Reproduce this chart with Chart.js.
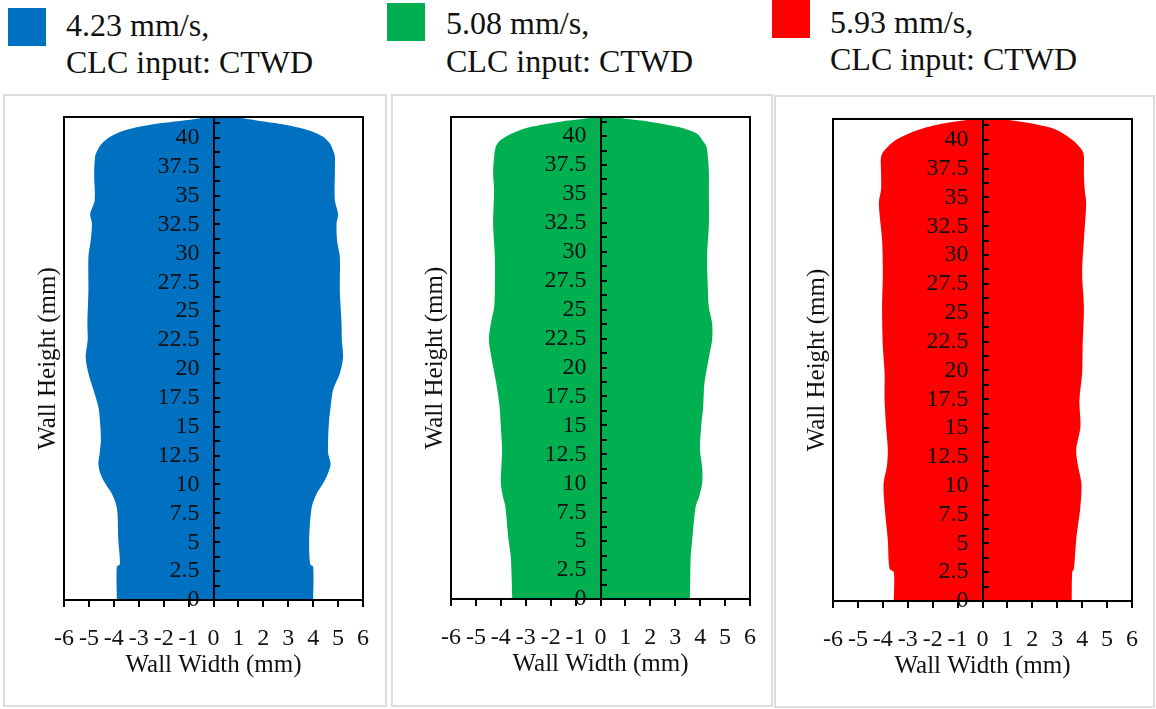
<!DOCTYPE html>
<html>
<head>
<meta charset="utf-8">
<script src="https://cdn.jsdelivr.net/npm/chart.js@4"></script>
<style>
  body { margin: 0; background: #fff; width: 1156px; height: 709px; position: relative; overflow: hidden; font-family: "Liberation Serif", serif; }
  .key { position: absolute; width: 38px; height: 38px; }
  .txt { position: absolute; font-size: 32px; line-height: 37px; color: #111; white-space: nowrap; }
  .box { position: absolute; border: 2px solid #dcdcdc; box-sizing: border-box; }
  canvas { position: absolute; }
</style>
</head>
<body>
<div class="key" style="left:8px;top:8px;background:#0070c0"></div>
<div class="txt" id="t1" style="left:66px;top:7px"></div>
<div class="key" style="left:387px;top:3px;background:#00b050"></div>
<div class="txt" id="t2" style="left:446px;top:4px;line-height:38px"></div>
<div class="key" style="left:772px;top:0px;background:#ff0000"></div>
<div class="txt" id="t3" style="left:830px;top:4px"></div>

<div class="box" style="left:3px;top:94px;width:384px;height:613px"></div>
<div class="box" style="left:391px;top:94px;width:382px;height:613px"></div>
<div class="box" style="left:774px;top:95px;width:381px;height:613px"></div>
<canvas id="c1" width="384" height="613" style="left:3px;top:94px"></canvas>
<canvas id="c2" width="382" height="613" style="left:391px;top:94px"></canvas>
<canvas id="c3" width="381" height="613" style="left:774px;top:95px"></canvas>

<script>
const speeds = ["4.23 mm/s,", "5.08 mm/s,", "5.93 mm/s,"];
const colors = ["#0070c0", "#00b050", "#ff0000"];
const xTicks = [-6, -5, -4, -3, -2, -1, 0, 1, 2, 3, 4, 5, 6];
const yLabels = [0, 2.5, 5, 7.5, 10, 12.5, 15, 17.5, 20, 22.5, 25, 27.5, 30, 32.5, 35, 37.5, 40];

// wall profile, panel 1 (4.23 mm/s)
const height1 = [0, 2.9, 3.1, 5.2, 8.0, 9.2, 10.1, 11.0, 11.8, 12.7, 13.8, 15.3, 16.7, 18.2, 19.6, 21.0, 22.5, 23.9, 26.8, 29.7, 31.1, 32.6, 33.4, 34.6, 36.9, 38.4, 38.9, 39.5, 40.1, 40.7, 41.25, 41.7, 42.0];
const left1 = [-3.88, -3.88, -3.76, -3.82, -3.88, -4.08, -4.35, -4.55, -4.62, -4.57, -4.52, -4.55, -4.62, -4.82, -5.02, -5.13, -5.05, -5.06, -5.02, -5.02, -4.93, -4.88, -4.95, -4.77, -4.79, -4.75, -4.66, -4.48, -4.15, -3.48, -2.15, -0.54, -0.2];
const right1 = [4.0, 4.0, 3.88, 3.84, 3.94, 4.14, 4.4, 4.6, 4.7, 4.6, 4.6, 4.63, 4.7, 4.8, 5.07, 5.2, 5.15, 5.14, 5.07, 5.07, 4.96, 4.94, 5.0, 4.87, 4.87, 4.87, 4.8, 4.67, 4.4, 3.74, 2.53, 1.19, 0.7];

// panel 2 (5.08 mm/s)
const height2 = [0, 3.65, 5.1, 8.0, 8.8, 10.0, 11.4, 12.9, 14.9, 16.6, 18.6, 20.9, 22.4, 23.8, 25.2, 26.7, 29.6, 32.4, 35.3, 36.8, 38.2, 39.1, 39.6, 40.2, 40.8, 41.25, 41.6, 42.0];
const left2 = [-3.54, -3.6, -3.69, -3.82, -3.91, -4.0, -3.98, -3.95, -4.0, -4.05, -4.18, -4.38, -4.48, -4.4, -4.27, -4.24, -4.24, -4.31, -4.27, -4.31, -4.27, -4.2, -4.04, -3.58, -2.78, -1.6, -0.38, -0.1];
const right2 = [3.59, 3.62, 3.68, 3.82, 3.95, 4.08, 4.08, 3.99, 4.04, 4.12, 4.17, 4.35, 4.48, 4.48, 4.35, 4.31, 4.28, 4.35, 4.35, 4.35, 4.31, 4.25, 4.1, 3.88, 3.08, 1.95, 0.75, 0.4];

// panel 3 (5.93 mm/s)
const height3 = [0, 2.5, 2.8, 5.3, 8.2, 10.2, 11.65, 13.1, 15.1, 17.4, 19.8, 22.1, 25.5, 28.4, 31.3, 34.5, 35.7, 37.1, 38.55, 39.1, 40.0, 40.9, 41.45, 41.9, 42.2];
const left3 = [-3.56, -3.56, -3.73, -3.8, -3.93, -3.97, -3.84, -3.8, -3.87, -3.93, -3.93, -4.0, -4.03, -4.0, -4.03, -4.16, -4.07, -4.07, -4.07, -3.93, -3.47, -2.53, -1.47, -0.13, -0.05];
const right3 = [3.58, 3.6, 3.67, 3.76, 3.93, 3.97, 3.84, 3.76, 3.93, 3.89, 4.0, 4.02, 4.07, 4.0, 4.07, 4.16, 4.1, 4.07, 4.07, 4.0, 3.6, 2.93, 1.87, 0.53, 0.2];

["t1", "t2", "t3"].forEach((id, i) => {
  document.getElementById(id).innerHTML = speeds[i] + "<br>CLC input: CTWD";
});

const serif = "'Liberation Serif'";

// black frame round the plot area + rotated y title
const framePlugin = {
  id: "frame",
  afterDraw(chart) {
    const { ctx, chartArea: a } = chart;
    ctx.save();
    ctx.strokeStyle = "#000";
    ctx.lineWidth = 2;
    ctx.strokeRect(a.left, a.top, a.right - a.left, a.bottom - a.top);
    ctx.translate(a.left - 9, (a.top + a.bottom) / 2);
    ctx.rotate(-Math.PI / 2);
    ctx.font = "25px " + serif;
    ctx.fillStyle = "#111";
    ctx.textAlign = "center";
    ctx.textBaseline = "alphabetic";
    ctx.fillText("Wall Height (mm)", 0, 0);
    ctx.restore();
  },
};

function makePanel(id, heights, left, right, color, yMax, pad) {
  const pts = (w) => heights.map((h, i) => ({ x: w[i], y: h }));
  const yTicks = yLabels.flatMap((v) => [v, v + 1.25]).filter((v) => v <= yMax);
  new Chart(document.getElementById(id), {
    type: "line",
    data: {
      datasets: [
        { data: pts(right), fill: "origin", backgroundColor: color, borderWidth: 0, pointRadius: 0, tension: 0.3 },
        { data: pts(left), fill: "origin", backgroundColor: color, borderWidth: 0, pointRadius: 0, tension: 0.3 },
      ],
    },
    options: {
      indexAxis: "y",
      responsive: false,
      animation: false,
      events: [],
      layout: { padding: pad },
      plugins: { legend: { display: false }, tooltip: { enabled: false } },
      scales: {
        x: {
          type: "linear",
          min: -6,
          max: 6,
          afterBuildTicks: (s) => { s.ticks = xTicks.map((v) => ({ value: v })); },
          afterFit: (s) => { s.height = 80; },
          grid: { drawOnChartArea: false, color: "#000", lineWidth: 2, tickLength: 7, z: 1 },
          border: { color: "#000", width: 2, z: 1 },
          ticks: { color: "#111", font: { family: serif, size: 24 }, padding: 17, maxRotation: 0, autoSkip: false, z: 1, callback: (v) => String(v) },
          title: { display: true, text: "Wall Width (mm)", color: "#111", font: { family: serif, size: 25 }, padding: 0 },
        },
        // axis line + tick marks at x = 0
        y: {
          type: "linear",
          position: { x: 0 },
          min: 0,
          max: yMax,
          afterBuildTicks: (s) => { s.ticks = yTicks.map((v) => ({ value: v })); },
          grid: { drawOnChartArea: false, color: "#000", lineWidth: 2, tickLength: -7, z: 1 },
          border: { color: "#000", width: 2, z: 1 },
          ticks: { display: false },
        },
        // tick labels just left of the axis
        yLab: {
          type: "linear",
          axis: "y",
          position: { x: -0.56 },
          min: 0,
          max: yMax,
          afterBuildTicks: (s) => { s.ticks = yLabels.map((v) => ({ value: v })); },
          grid: { display: false },
          border: { display: false },
          ticks: { color: "#111", font: { family: serif, size: 24 }, padding: 0, autoSkip: false, z: 1, callback: (v) => String(v) },
        },
      },
    },
    plugins: [framePlugin],
  });
}

function drawAll() {
  makePanel("c1", height1, left1, right1, colors[0], 41.8, { left: 61, top: 23, right: 24, bottom: 27 });
  makePanel("c2", height2, left2, right2, colors[1], 41.65, { left: 60, top: 23, right: 22, bottom: 28 });
  makePanel("c3", height3, left3, right3, colors[2], 41.8, { left: 59, top: 24, right: 22, bottom: 27 });
}

document.fonts.load("24px 'Liberation Serif'").then(drawAll, drawAll);
</script>
</body>
</html>
